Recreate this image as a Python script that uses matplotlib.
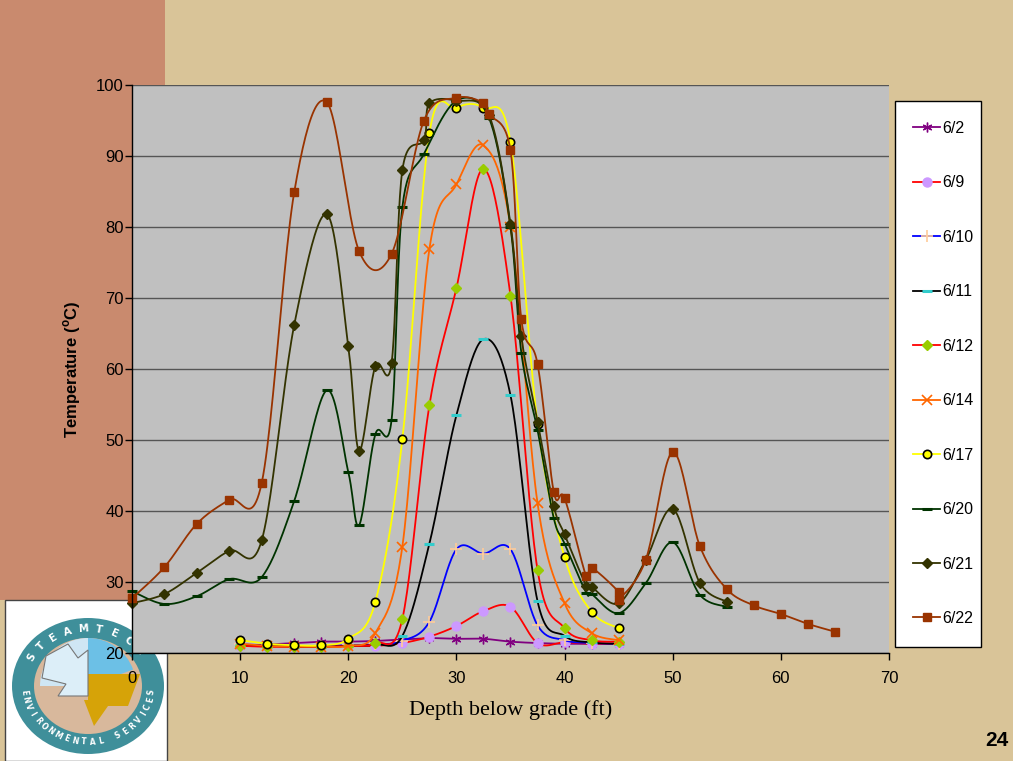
import numpy as np
import matplotlib.pyplot as plt
from matplotlib.lines import Line2D
from matplotlib.patches import Rectangle, Circle, Wedge, Polygon, Ellipse

# depths (ft) for the early string and for the later, longer profiles
depth_early = [10, 12.5, 15, 17.5, 20, 22.5, 25, 27.5, 30, 32.5, 35, 37.5, 40, 42.5, 45]
depth_0620 = [0, 3, 6, 9, 12, 15, 18, 20, 21, 22.5, 24, 25, 27, 30, 33, 35, 36, 37.5, 39, 40,
              42, 42.5, 45, 47.5, 50, 52.5, 55]
depth_0621 = [0, 3, 6, 9, 12, 15, 18, 20, 21, 22.5, 24, 25, 27, 27.5, 30, 33, 35, 36, 37.5, 39,
              40, 42, 42.5, 45, 47.5, 50, 52.5, 55]
depth_0622 = [0, 3, 6, 9, 12, 15, 18, 21, 24, 27, 30, 32.5, 33, 35, 36, 37.5, 39, 40, 42, 42.5,
              45, 45, 47.5, 50, 52.5, 55, 57.5, 60, 62.5, 65]

t_0602 = [21.0, 21.2, 21.4, 21.6, 21.6, 21.7, 21.9, 22.1, 22.0, 22.0, 21.6, 21.4, 21.3, 21.3, 21.3]
t_0609 = [21.0, 20.9, 20.9, 20.9, 21.0, 21.0, 21.4, 22.3, 23.8, 25.9, 26.5, 21.4, 21.5, 21.3, 21.3]
t_0610 = [21.2, 21.1, 21.0, 21.0, 21.1, 21.2, 21.7, 24.4, 34.6, 34.0, 34.6, 23.9, 21.8, 21.4, 21.3]
t_0611 = [21.1, 21.0, 20.9, 20.9, 21.0, 21.2, 22.4, 35.4, 53.5, 64.2, 56.3, 27.3, 22.4, 21.5, 21.3]
t_0612 = [21.0, 20.9, 20.9, 20.9, 21.0, 21.4, 24.8, 54.9, 71.4, 88.2, 70.3, 31.7, 23.5, 21.8, 21.6]
t_0614 = [21.3, 21.0, 20.9, 20.9, 21.0, 22.8, 35.0, 76.9, 86.0, 91.5, 80.0, 41.1, 27.0, 22.8, 21.8]
t_0617 = [21.8, 21.3, 21.1, 21.1, 22.0, 27.2, 50.1, 93.2, 96.8, 96.8, 92.0, 52.3, 33.5, 25.8, 23.5]
t_0620 = [28.7, 26.9, 28.0, 30.4, 30.7, 41.4, 57.0, 45.5, 38.0, 50.8, 52.8, 82.8, 90.3, 97.8, 95.4,
          80.0, 62.3, 51.4, 39.0, 35.4, 28.5, 28.3, 25.6, 29.8, 35.6, 28.2, 26.5]
t_0621 = [27.0, 28.3, 31.3, 34.4, 35.9, 66.2, 81.8, 63.2, 48.5, 60.4, 60.8, 88.0, 92.3, 97.4, 97.8,
          95.8, 80.4, 64.6, 52.6, 40.7, 36.7, 29.5, 29.3, 27.0, 33.1, 40.3, 29.9, 27.2]
t_0622 = [27.7, 32.1, 38.2, 41.6, 44.0, 84.9, 97.6, 76.6, 76.2, 95.0, 98.2, 97.5, 95.9, 90.8, 67.0,
          60.7, 42.7, 41.8, 30.8, 32.0, 28.6, 27.5, 33.1, 48.3, 35.1, 29.0, 26.7, 25.5, 24.1, 23.0]

labels = ["6/2", "6/9", "6/10", "6/11", "6/12", "6/14", "6/17", "6/20", "6/21", "6/22"]
series = [
    (depth_early, t_0602, dict(color="#800080", marker=(6, 2, 0), mfc="#800080", mec="#800080", ms=7, mew=1.0)),
    (depth_early, t_0609, dict(color="#FF0000", marker="o", mfc="#CC99FF", mec="#CC99FF", ms=6.5, mew=1.0)),
    (depth_early, t_0610, dict(color="#0000FF", marker="+", mfc="#FFCC99", mec="#FFCC99", ms=8, mew=1.2)),
    (depth_early, t_0611, dict(color="#000000", marker="_", mfc="#33CCCC", mec="#33CCCC", ms=7, mew=2.2)),
    (depth_early, t_0612, dict(color="#FF0000", marker="D", mfc="#99CC00", mec="#99CC00", ms=5, mew=1.0)),
    (depth_early, t_0614, dict(color="#FF6600", marker="x", mfc="#FF6600", mec="#FF6600", ms=6.5, mew=1.2)),
    (depth_early, t_0617, dict(color="#FFFF00", marker="o", mfc="#FFFF00", mec="#000000", ms=6, mew=1.2)),
    (depth_0620, t_0620, dict(color="#003300", marker="_", mfc="#003300", mec="#003300", ms=7, mew=2.2)),
    (depth_0621, t_0621, dict(color="#333300", marker="D", mfc="#333300", mec="#333300", ms=5, mew=1.0)),
    (depth_0622, t_0622, dict(color="#993300", marker="s", mfc="#993300", mec="#993300", ms=6, mew=1.0)),
]


def smooth(x, y, n=24):
    # bezier smoothing through every point, like a spreadsheet "smoothed line"
    p = np.column_stack([x, y]).astype(float)
    p = np.vstack([p[0], p, p[-1]])
    t = np.linspace(0, 1, n)[:, None]
    out = []
    for i in range(1, len(p) - 2):
        p0, p1, p2, p3 = p[i - 1], p[i], p[i + 1], p[i + 2]
        c1 = p1 + (p2 - p0) / 6
        c2 = p2 - (p3 - p1) / 6
        out.append((1 - t) ** 3 * p1 + 3 * (1 - t) ** 2 * t * c1 + 3 * (1 - t) * t ** 2 * c2 + t ** 3 * p2)
    out = np.vstack(out)
    return out[:, 0], out[:, 1]


W, H = 1013, 761
fig = plt.figure(figsize=(W / 100, H / 100), dpi=100, facecolor="#D9C498")

# slide background, drawn in pixel units
bg = fig.add_axes([0, 0, 1, 1], zorder=0)
bg.set_xlim(0, W)
bg.set_ylim(0, H)
bg.axis("off")
Y = lambda py: H - py
bg.add_patch(Rectangle((0, Y(600)), 165, 600, color="#C98A6E", lw=0))
bg.add_patch(Rectangle((5, 0), 162, Y(600), facecolor="white", edgecolor="#444444", lw=1))

# rough version of the company logo
cx, cy = 88, Y(686)
bg.add_patch(Ellipse((cx, cy), 152, 136, color="#3F8F9A", lw=0))
bg.add_patch(Ellipse((cx, cy), 108, 96, color="#D8B89C", lw=0))
bg.add_patch(Wedge((cx, cy), 48, 90, 180, color="#CFE6F4", lw=0))
bg.add_patch(Wedge((cx, cy), 48, 20, 90, color="#6CC0E6", lw=0))
bg.add_patch(Polygon([(cx, cy + 12), (cx + 52, cy + 12), (cx + 40, cy - 20), (cx + 20, cy - 20),
                      (cx + 6, cy - 40), (cx - 4, cy - 14), (cx, cy - 14)], color="#D6A308", lw=0))
bg.add_patch(Polygon([(cx - 42, cy + 30), (cx - 20, cy + 42), (cx - 10, cy + 28), (cx, cy + 36),
                      (cx, cy - 10), (cx - 30, cy - 10), (cx - 22, cy + 2), (cx - 46, cy + 8)],
                     color="#DCEEF8", ec="#777777", lw=0.8))
for i, ch in enumerate("STEAMTECH"):
    a = np.deg2rad(150 - i * 14)
    bg.text(cx + 65 * np.cos(a), cy + 57 * np.sin(a), ch, color="white", fontsize=7.5, fontweight="bold",
            rotation=np.rad2deg(a) - 90, ha="center", va="center")
for i, ch in enumerate("ENVIRONMENTAL SERVICES"):
    a = np.deg2rad(186 + i * 8)
    bg.text(cx + 64 * np.cos(a), cy + 56 * np.sin(a), ch, color="white", fontsize=5.5, fontweight="bold",
            rotation=np.rad2deg(a) + 90, ha="center", va="center")

# legend frame
bg.add_patch(Rectangle((895, Y(647)), 86, 546, facecolor="white", edgecolor="black", lw=1))
bg.text(997, Y(740), "24", fontsize=15, fontweight="bold", ha="center", va="center", family="Liberation Sans")

ax = fig.add_axes([132 / W, 1 - 653 / H, (889 - 132) / W, (653 - 85) / H], zorder=1)
ax.set_facecolor("#C0C0C0")

handles = []
for (x, y, st), lab in zip(series, labels):
    sx, sy = smooth(x, y)
    ax.plot(sx, sy, color=st["color"], lw=1.3, solid_capstyle="round", clip_on=False)
    ax.plot(x, y, ls="none", marker=st["marker"], mfc=st["mfc"], mec=st["mec"], ms=st["ms"],
            mew=st["mew"], clip_on=False)
    handles.append(Line2D([], [], color=st["color"], lw=1.3, marker=st["marker"], mfc=st["mfc"],
                          mec=st["mec"], ms=st["ms"], mew=st["mew"], label=lab))

ax.set_xlim(0, 70)
ax.set_ylim(20, 100)
ax.set_xticks(range(0, 71, 10))
ax.set_yticks(range(20, 101, 10))
ax.yaxis.grid(True, color="#555555", lw=1)
ax.set_axisbelow(True)
for s in ["top", "right"]:
    ax.spines[s].set_visible(False)
for s in ["left", "bottom"]:
    ax.spines[s].set_color("black")
    ax.spines[s].set_linewidth(1)
ax.tick_params(direction="out", length=5, width=1, labelsize=12)
ax.tick_params(axis="x", pad=8)
ax.tick_params(axis="y", pad=1)
for lbl in ax.get_xticklabels() + ax.get_yticklabels():
    lbl.set_family("Liberation Sans")

ax.set_xlabel("Depth below grade (ft)", family="Liberation Serif", fontsize=16, labelpad=10)
ax.set_ylabel("Temperature ($^{\\mathregular{o}}$C)", family="Liberation Sans", fontsize=12,
              fontweight="bold", labelpad=9)

fig.legend(handles=handles, loc="upper left", bbox_to_anchor=(905 / W, 1 - 113 / H),
           frameon=False, borderpad=0, handlelength=1.7, handletextpad=0.15,
           labelspacing=2.47, prop={"family": "Liberation Sans", "size": 11.5})

fig.savefig("out.png", dpi=100, facecolor=fig.get_facecolor())
